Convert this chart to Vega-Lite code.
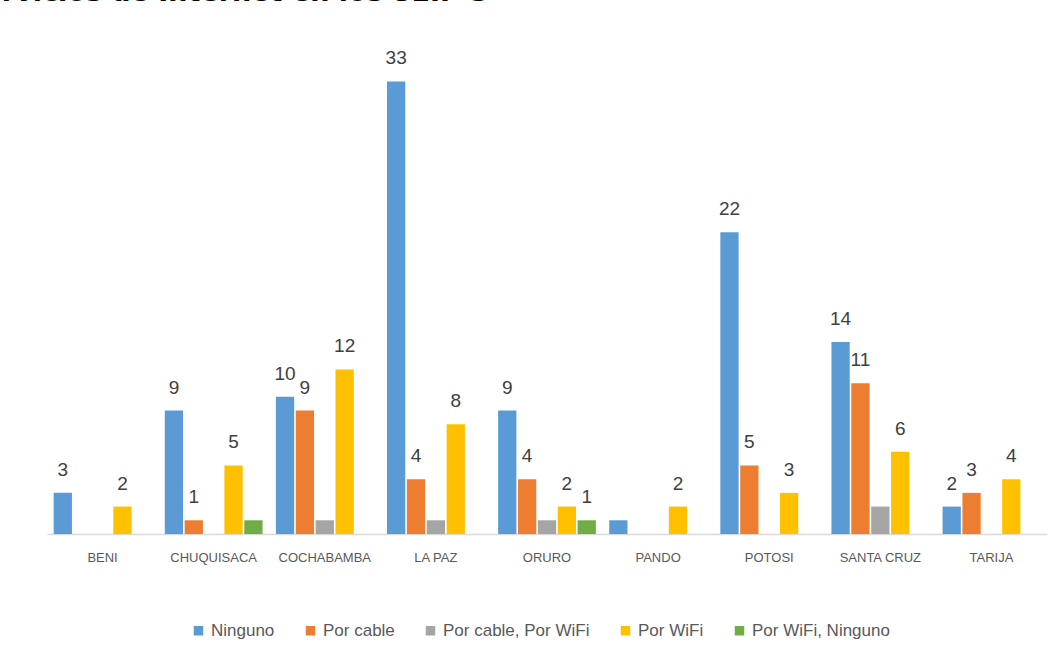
{
  "$schema": "https://vega.github.io/schema/vega-lite/v6.json",
  "autosize": "none",
  "width": 1000,
  "height": 480,
  "padding": {"left": 47, "top": 54, "right": 16, "bottom": 130},
  "background": "white",
  "title": {
    "text": "Servicios de Internet en los SEIP-3",
    "anchor": "start",
    "frame": "group",
    "font": "DejaVu Sans",
    "fontSize": 27,
    "fontWeight": "bold",
    "color": "black",
    "dx": -83,
    "offset": 42
  },
  "data": {
    "values": [
      {"dep": "BENI", "serie": "Ninguno", "valor": 3, "etiqueta": "3"},
      {"dep": "BENI", "serie": "Por WiFi", "valor": 2, "etiqueta": "2"},
      {"dep": "CHUQUISACA", "serie": "Ninguno", "valor": 9, "etiqueta": "9"},
      {"dep": "CHUQUISACA", "serie": "Por cable", "valor": 1, "etiqueta": "1"},
      {"dep": "CHUQUISACA", "serie": "Por WiFi", "valor": 5, "etiqueta": "5"},
      {"dep": "CHUQUISACA", "serie": "Por WiFi, Ninguno", "valor": 1, "etiqueta": ""},
      {"dep": "COCHABAMBA", "serie": "Ninguno", "valor": 10, "etiqueta": "10"},
      {"dep": "COCHABAMBA", "serie": "Por cable", "valor": 9, "etiqueta": "9"},
      {"dep": "COCHABAMBA", "serie": "Por cable, Por WiFi", "valor": 1, "etiqueta": ""},
      {"dep": "COCHABAMBA", "serie": "Por WiFi", "valor": 12, "etiqueta": "12"},
      {"dep": "LA PAZ", "serie": "Ninguno", "valor": 33, "etiqueta": "33"},
      {"dep": "LA PAZ", "serie": "Por cable", "valor": 4, "etiqueta": "4"},
      {"dep": "LA PAZ", "serie": "Por cable, Por WiFi", "valor": 1, "etiqueta": ""},
      {"dep": "LA PAZ", "serie": "Por WiFi", "valor": 8, "etiqueta": "8"},
      {"dep": "ORURO", "serie": "Ninguno", "valor": 9, "etiqueta": "9"},
      {"dep": "ORURO", "serie": "Por cable", "valor": 4, "etiqueta": "4"},
      {"dep": "ORURO", "serie": "Por cable, Por WiFi", "valor": 1, "etiqueta": ""},
      {"dep": "ORURO", "serie": "Por WiFi", "valor": 2, "etiqueta": "2"},
      {"dep": "ORURO", "serie": "Por WiFi, Ninguno", "valor": 1, "etiqueta": "1"},
      {"dep": "PANDO", "serie": "Ninguno", "valor": 1, "etiqueta": ""},
      {"dep": "PANDO", "serie": "Por WiFi", "valor": 2, "etiqueta": "2"},
      {"dep": "POTOSI", "serie": "Ninguno", "valor": 22, "etiqueta": "22"},
      {"dep": "POTOSI", "serie": "Por cable", "valor": 5, "etiqueta": "5"},
      {"dep": "POTOSI", "serie": "Por WiFi", "valor": 3, "etiqueta": "3"},
      {"dep": "SANTA CRUZ", "serie": "Ninguno", "valor": 14, "etiqueta": "14"},
      {"dep": "SANTA CRUZ", "serie": "Por cable", "valor": 11, "etiqueta": "11"},
      {"dep": "SANTA CRUZ", "serie": "Por cable, Por WiFi", "valor": 2, "etiqueta": ""},
      {"dep": "SANTA CRUZ", "serie": "Por WiFi", "valor": 6, "etiqueta": "6"},
      {"dep": "TARIJA", "serie": "Ninguno", "valor": 2, "etiqueta": "2"},
      {"dep": "TARIJA", "serie": "Por cable", "valor": 3, "etiqueta": "3"},
      {"dep": "TARIJA", "serie": "Por WiFi", "valor": 4, "etiqueta": "4"}
    ]
  },
  "encoding": {
    "x": {
      "field": "dep",
      "type": "nominal",
      "sort": ["BENI", "CHUQUISACA", "COCHABAMBA", "LA PAZ", "ORURO", "PANDO", "POTOSI", "SANTA CRUZ", "TARIJA"],
      "scale": {"paddingInner": 0.12, "paddingOuter": 0.06},
      "axis": {
        "title": null,
        "labelAngle": 0,
        "ticks": false,
        "domainColor": "#D9D9D9",
        "domainWidth": 1.5,
        "labelFont": "Liberation Sans",
        "labelFontSize": 13,
        "labelColor": "#595959",
        "labelPadding": 17
      }
    },
    "xOffset": {
      "field": "serie",
      "type": "nominal",
      "sort": ["Ninguno", "Por cable", "Por cable, Por WiFi", "Por WiFi", "Por WiFi, Ninguno"],
      "scale": {"paddingInner": 0.08, "paddingOuter": 0}
    },
    "y": {
      "field": "valor",
      "type": "quantitative",
      "scale": {"domain": [0, 35], "nice": false},
      "axis": null
    }
  },
  "layer": [
    {
      "mark": {"type": "bar"},
      "encoding": {
        "color": {
          "field": "serie",
          "type": "nominal",
          "sort": ["Ninguno", "Por cable", "Por cable, Por WiFi", "Por WiFi", "Por WiFi, Ninguno"],
          "scale": {
            "domain": ["Ninguno", "Por cable", "Por cable, Por WiFi", "Por WiFi", "Por WiFi, Ninguno"],
            "range": ["#5B9BD5", "#ED7D31", "#A5A5A5", "#FFC000", "#70AD47"]
          },
          "legend": {
            "title": null,
            "orient": "none",
            "legendX": 143,
            "legendY": 568,
            "direction": "horizontal",
            "symbolType": "square",
            "symbolSize": 90,
            "symbolStrokeWidth": 0,
            "labelFont": "Liberation Sans",
            "labelFontSize": 17,
            "labelColor": "#595959",
            "labelOffset": 4,
            "columnPadding": 27
          }
        }
      }
    },
    {
      "mark": {
        "type": "text",
        "baseline": "alphabetic",
        "dy": -17,
        "font": "Liberation Sans",
        "fontSize": 19,
        "color": "#404040"
      },
      "encoding": {
        "text": {"field": "etiqueta"}
      }
    }
  ],
  "config": {
    "view": {"stroke": null}
  }
}
